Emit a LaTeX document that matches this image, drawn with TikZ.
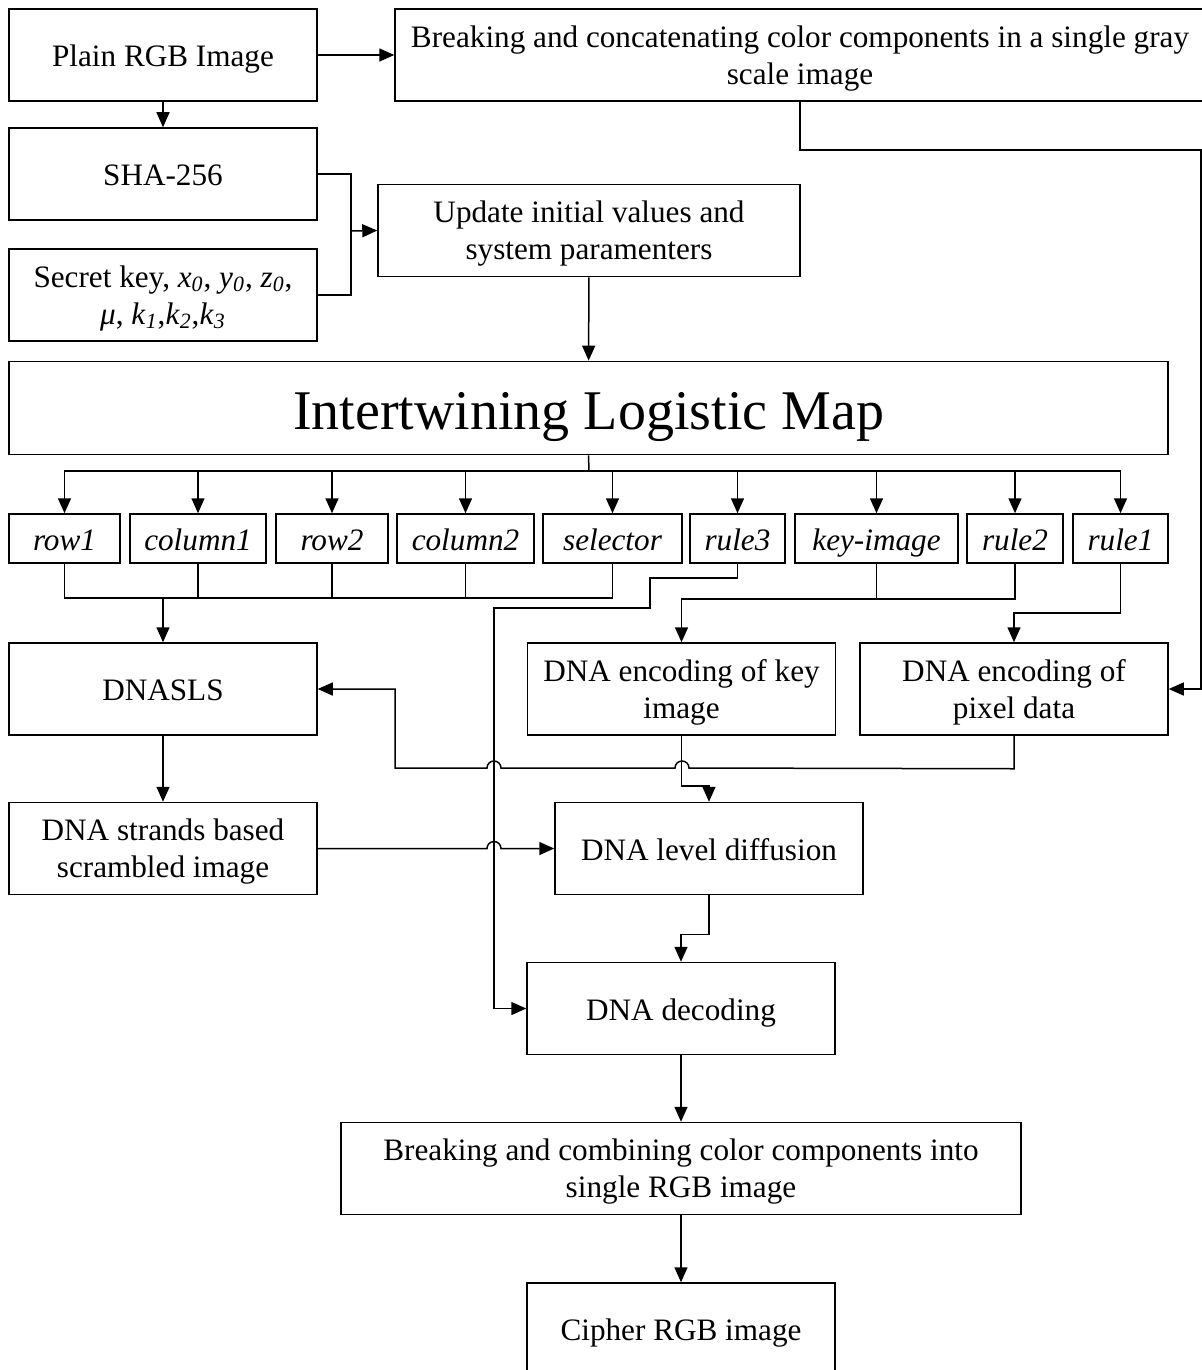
\documentclass[tikz,border=0pt]{standalone}
\usepackage{fontspec}
\setmainfont{Liberation Serif}
\usetikzlibrary{arrows.meta,positioning}
\newcommand{\boxstrut}[2]{\rule[-#1em]{0pt}{#2em}}

\begin{document}
\begin{tikzpicture}[
  x=0.5pt, y=-0.5pt,
  font=\fontsize{15.6}{18.5}\selectfont,
  line width=0.75pt,
  arr/.style={-{Triangle[length=7.5pt,width=6.5pt]}},
  box/.style={draw, rectangle, minimum width=154pt, minimum height=46pt, align=center, inner sep=0pt,
    execute at begin node={\boxstrut{0.45}{1.665}}},
  twobox/.style={box, execute at begin node={\boxstrut{0}{2.33}}},
  varbox/.style={draw, rectangle, minimum height=24.5pt, align=center, inner sep=0pt,
    execute at begin node={\boxstrut{0.295}{1.385}}, font=\fontsize{15.6}{18.5}\selectfont\itshape}
]
\useasboundingbox (0,0) rectangle (1202,1370);

\node[box] (plain) at (163,55) {Plain RGB Image};
\node[twobox, minimum width=405pt] (breakc) at (800,55) {Breaking and concatenating color components in a single gray\\scale image};
\node[box] (sha) at (163,174) {SHA-256};
\node[twobox] (seckey) at (163,295) {Secret key, \textit{x}\textsubscript{\textit{0}}, \textit{y}\textsubscript{\textit{0}}, \textit{z}\textsubscript{\textit{0}},\\\textit{μ}, \textit{k}\textsubscript{\textit{1}},\textit{k}\textsubscript{\textit{2}},\textit{k}\textsubscript{\textit{3}}};
\node[twobox, minimum width=211pt] (update) at (589,230.5) {Update initial values and\\system paramenters};
\node[box, minimum width=579.5pt, font=\fontsize{28}{32}\selectfont,
  execute at begin node={\boxstrut{0.4}{1.5}}] (ilm) at (588.5,408) {Intertwining Logistic Map};

% key stream outputs
\node[varbox, minimum width=55.5pt] (row1) at (64.5,538.5) {row1};
\node[varbox, minimum width=68pt] (col1) at (198,538.5) {column1};
\node[varbox, minimum width=56pt] (row2) at (332,538.5) {row2};
\node[varbox, minimum width=68.5pt] (col2) at (465.5,538.5) {column2};
\node[varbox, minimum width=69.5pt] (selector) at (612.5,538.5) {selector};
\node[varbox, minimum width=47.5pt] (rule3) at (737.5,538.5) {rule3};
\node[varbox, minimum width=81.5pt] (keyimg) at (876.5,538.5) {key-image};
\node[varbox, minimum width=48pt] (rule2) at (1015,538.5) {rule2};
\node[varbox, minimum width=47.5pt] (rule1) at (1120.5,538.5) {rule1};

\node[box] (dnasls) at (163,689) {DNASLS};
\node[twobox] (keyenc) at (681.5,689) {DNA encoding of key\\image};
\node[twobox] (pixenc) at (1014,689) {DNA encoding of\\pixel data};
\node[twobox] (strands) at (163,848.5) {DNA strands based\\scrambled image};
\node[box] (diffuse) at (709,848.5) {DNA level diffusion};
\node[box] (decode) at (681,1008.5) {DNA decoding};
\node[twobox, minimum width=340pt] (combine) at (681,1168.5) {Breaking and combining color components into\\single RGB image};
\node[box] (cipher) at (681,1329) {Cipher RGB image};

\coordinate (join1) at (351,231);
\coordinate (split) at (589,471);
\coordinate (merge) at (163,598);
\coordinate (edge) at (1201,150);

\draw[arr] (plain) -- (breakc);
\draw[arr] (plain) -- (sha);
\draw (sha.east) -| (join1);
\draw (seckey.east) -| (join1);
\draw[arr] (join1) -- (update.west);
\draw[arr] (update) -- (ilm);

\draw (ilm.south) -- (split);
\foreach \n in {row1,col1,row2,col2,selector,rule3,keyimg,rule2,rule1}
  \draw[arr] (split) -| (\n.north);

\foreach \n in {row1,col1,row2,col2,selector}
  \draw (\n.south) |- (merge);
\draw[arr] (merge) -- (dnasls);

\draw[arr] (rule3.south) |- (650,578) |- (494,608) |- (decode.west);
\draw[arr] (keyimg.south) -- ++(0,35) -| (keyenc.north);
\draw (rule2.south) -- ++(0,35) -- ++(-138,0);
\draw[arr] (rule1.south) -- ++(0,49) -| (pixenc.north);
\draw[arr] (breakc.south) |- (edge) |- (pixenc.east);

% line hops at crossings
\draw[arr] (pixenc.south) -- ++(0,33) -- (689,768)
  arc[start angle=0, end angle=180, radius=3.5pt] -- (501,768)
  arc[start angle=0, end angle=180, radius=3.5pt] -- (395,768) |- (dnasls.east);
\draw[arr] (keyenc.south) -- ++(0,50) -| (diffuse.north);
\draw[arr] (dnasls) -- (strands);
\draw[arr] (strands.east) -- (487,848.5)
  arc[start angle=180, end angle=0, radius=3.5pt] -- (diffuse.west);
\draw[arr] (diffuse.south) -- ++(0,39) -| (decode.north);
\draw[arr] (decode) -- (combine);
\draw[arr] (combine) -- (cipher);
\end{tikzpicture}
\end{document}
